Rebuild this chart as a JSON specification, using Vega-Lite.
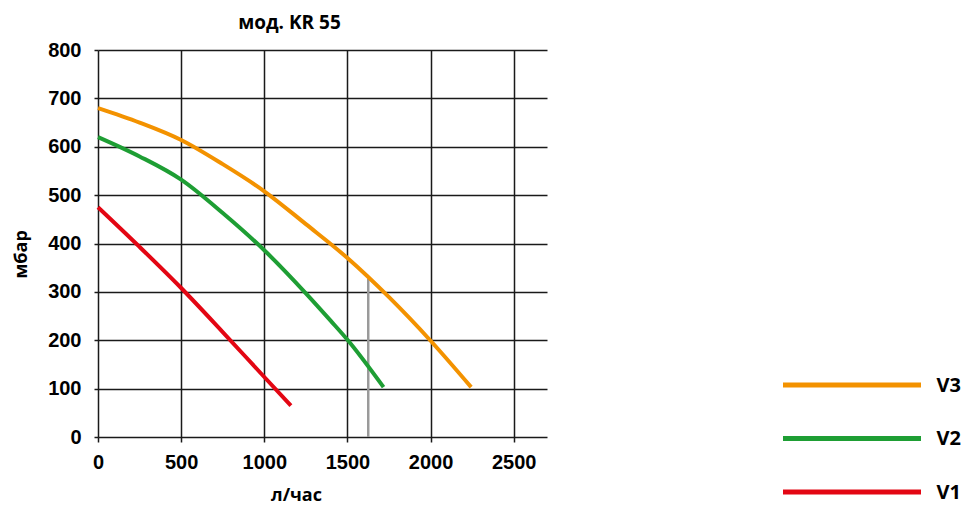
{
  "$schema": "https://vega.github.io/schema/vega-lite/v6.json",
  "background": "white",
  "padding": {"left": 12, "top": 14, "right": 5, "bottom": 0},
  "spacing": 233,
  "config": {
    "view": {"stroke": null},
    "font": "Liberation Sans"
  },
  "datasets": {
    "curves": [
      {"series": "V3", "q": 0, "p": 680},
      {"series": "V3", "q": 250, "p": 650},
      {"series": "V3", "q": 500, "p": 614},
      {"series": "V3", "q": 750, "p": 564},
      {"series": "V3", "q": 1000, "p": 508},
      {"series": "V3", "q": 1250, "p": 440},
      {"series": "V3", "q": 1500, "p": 370},
      {"series": "V3", "q": 1750, "p": 289},
      {"series": "V3", "q": 2000, "p": 199},
      {"series": "V3", "q": 2244, "p": 103},
      {"series": "V2", "q": 0, "p": 620},
      {"series": "V2", "q": 250, "p": 580},
      {"series": "V2", "q": 500, "p": 532},
      {"series": "V2", "q": 750, "p": 463},
      {"series": "V2", "q": 1000, "p": 386},
      {"series": "V2", "q": 1250, "p": 297},
      {"series": "V2", "q": 1400, "p": 240},
      {"series": "V2", "q": 1500, "p": 201},
      {"series": "V2", "q": 1717, "p": 103},
      {"series": "V1", "q": 0, "p": 475},
      {"series": "V1", "q": 250, "p": 393},
      {"series": "V1", "q": 500, "p": 308},
      {"series": "V1", "q": 750, "p": 217},
      {"series": "V1", "q": 1000, "p": 124},
      {"series": "V1", "q": 1160, "p": 65}
    ],
    "marker": [
      {"q": 1625, "p": 0},
      {"q": 1625, "p": 327}
    ],
    "legendRows": [
      {"series": "V3"},
      {"series": "V2"},
      {"series": "V1"}
    ]
  },
  "hconcat": [
    {
      "width": 449,
      "height": 387,
      "title": {
        "text": "мод. KR 55",
        "font": "Open Sans",
        "fontSize": 19,
        "fontWeight": "bold",
        "color": "#000",
        "anchor": "middle",
        "dx": -33,
        "offset": 7
      },
      "layer": [
        {
          "data": {"name": "marker"},
          "mark": {"type": "line", "color": "#9a9a9a", "strokeWidth": 2.5},
          "encoding": {
            "x": {"field": "q", "type": "quantitative"},
            "y": {"field": "p", "type": "quantitative"}
          }
        },
        {
          "data": {"name": "curves"},
          "mark": {"type": "line", "strokeWidth": 4, "interpolate": "monotone", "strokeCap": "butt"},
          "encoding": {
            "x": {
              "field": "q",
              "type": "quantitative",
              "scale": {"domain": [0, 2700], "nice": false, "zero": false},
              "axis": {
                "title": "л/час",
                "format": "d",
                "values": [0, 500, 1000, 1500, 2000, 2500],
                "grid": true,
                "gridColor": "#1a1a1a",
                "gridWidth": 1.5,
                "gridOpacity": 1,
                "domain": false,
                "ticks": true,
                "tickSize": 5,
                "tickColor": "#1a1a1a",
                "tickWidth": 1.5,
                "labelFont": "Liberation Sans",
                "labelFontSize": 20,
                "labelFontWeight": "bold",
                "labelColor": "#000",
                "labelPadding": 10,
                "labelFlush": false,
                "labelOverlap": false,
                "titleFont": "Open Sans",
                "titleFontSize": 18,
                "titleFontWeight": "bold",
                "titleColor": "#000",
                "titleX": 198,
                "titlePadding": 14
              }
            },
            "y": {
              "field": "p",
              "type": "quantitative",
              "scale": {"domain": [0, 800], "nice": false},
              "axis": {
                "title": "мбар",
                "values": [0, 100, 200, 300, 400, 500, 600, 700, 800],
                "grid": true,
                "gridColor": "#1a1a1a",
                "gridWidth": 1.5,
                "gridOpacity": 1,
                "domain": false,
                "ticks": true,
                "tickSize": 4,
                "tickColor": "#1a1a1a",
                "tickWidth": 1.5,
                "labelFont": "Liberation Sans",
                "labelFontSize": 20,
                "labelFontWeight": "bold",
                "labelColor": "#000",
                "labelPadding": 13,
                "labelFlush": false,
                "labelOverlap": false,
                "titleFont": "Open Sans",
                "titleFontSize": 18,
                "titleFontWeight": "bold",
                "titleColor": "#000",
                "titleY": 204,
                "titlePadding": 17
              }
            },
            "color": {
              "field": "series",
              "type": "nominal",
              "scale": {"domain": ["V3", "V2", "V1"], "range": ["#F39200", "#1E9E34", "#E30613"]},
              "legend": null
            }
          }
        }
      ]
    },
    {
      "width": 138,
      "height": 442,
      "data": {"name": "legendRows"},
      "mark": {"type": "rule", "strokeWidth": 5, "strokeCap": "butt"},
      "encoding": {
        "x": {"datum": 0, "type": "quantitative", "scale": {"domain": [0, 1], "nice": false}, "axis": null},
        "x2": {"datum": 1},
        "y": {
          "field": "series",
          "type": "nominal",
          "sort": ["V3", "V2", "V1"],
          "scale": {"type": "point", "domain": ["V3", "V2", "V1"], "range": [335, 442], "padding": 0},
          "axis": {
            "orient": "right",
            "title": null,
            "domain": false,
            "ticks": false,
            "tickSize": 0,
            "grid": false,
            "labelFont": "Open Sans",
            "labelFontSize": 20,
            "labelFontWeight": "bold",
            "labelColor": "#000",
            "labelPadding": 15
          }
        },
        "color": {"field": "series", "type": "nominal", "legend": null}
      }
    }
  ]
}
